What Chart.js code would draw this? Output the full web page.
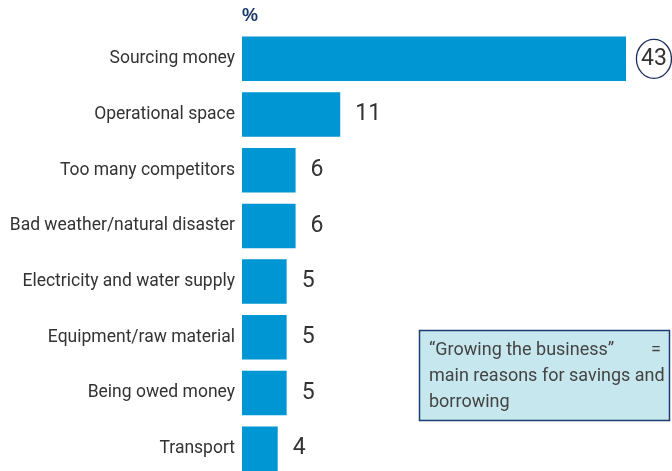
<!DOCTYPE html>
<html>
<head>
<meta charset="utf-8">
<script src="https://cdn.jsdelivr.net/npm/chart.js@4"></script>
<style>
    html, body { margin: 0; padding: 0; background: #fff; overflow: hidden; }
</style>
</head>
<body>
<canvas id="myChart" width="672" height="494"></canvas>
<script>
const categories = ['Sourcing money', 'Operational space', 'Too many competitors', 'Bad weather/natural disaster',
    'Electricity and water supply', 'Equipment/raw material', 'Being owed money', 'Transport'];
const values = [43, 11, 6, 6, 5, 5, 5, 4];
const circled = [0];
const unitLabel = '%';
const noteLines = ['\u201CGrowing the business\u201D', 'main reasons for savings and', 'borrowing'];

const FONT = 'Roboto, "Liberation Sans", sans-serif';

const extras = {
    id: 'extras',
    afterDatasetsDraw(chart) {
        const ctx = chart.ctx;
        const meta = chart.getDatasetMeta(0);
        ctx.save();
        // value labels
        ctx.font = '23px ' + FONT;
        ctx.fillStyle = '#333';
        ctx.textBaseline = 'middle';
        ctx.textAlign = 'left';
        meta.data.forEach((bar, i) => {
            const x = bar.x + 15;
            ctx.fillText(values[i], x, bar.y);
            if (circled.includes(i)) {
                const w = ctx.measureText(values[i]).width;
                ctx.beginPath();
                ctx.strokeStyle = '#1f2f5c';
                ctx.lineWidth = 1.3;
                ctx.ellipse(x + w / 2, bar.y, 17.5, 19.5, 0, 0, Math.PI * 2);
                ctx.stroke();
            }
        });
        // unit label
        ctx.font = 'bold 18px "Liberation Sans", Arial, sans-serif';
        ctx.fillStyle = '#1a3668';
        ctx.fillText(unitLabel, chart.chartArea.left, 16);
        // note box
        ctx.fillStyle = '#c6e7ed';
        ctx.fillRect(419.5, 330.5, 250, 90);
        ctx.strokeStyle = '#1f3b73';
        ctx.lineWidth = 1.5;
        ctx.strokeRect(419.5, 330.5, 250, 90);
        ctx.font = '18px ' + FONT;
        ctx.fillStyle = '#444';
        noteLines.forEach((t, i) => ctx.fillText(t, 429, 350 + i * 26));
        ctx.textAlign = 'right';
        ctx.fillText('=', 661, 350);
        ctx.restore();
    }
};

function generateChart() {
    const ctx = document.getElementById('myChart');
    new Chart(ctx, {
        type: 'bar',
        data: {
            labels: categories,
            datasets: [{
                data: values,
                backgroundColor: '#0095d3',
                barPercentage: 0.8,
                categoryPercentage: 1
            }]
        },
        options: {
            indexAxis: 'y',
            responsive: false,
            animation: false,
            layout: { padding: { top: 31, right: 0, bottom: 0, left: 0 } },
            scales: {
                x: {
                    min: 0,
                    max: 48.15,
                    display: false
                },
                y: {
                    grid: { display: false, drawTicks: false },
                    border: { display: false },
                    afterFit(scale) { scale.width = 242; },
                    ticks: {
                        padding: 7,
                        color: '#333',
                        font: { family: FONT, size: 17.5 }
                    }
                }
            },
            plugins: {
                legend: { display: false },
                tooltip: { enabled: false }
            }
        },
        plugins: [extras]
    });
}
generateChart();
</script>
</body>
</html>
